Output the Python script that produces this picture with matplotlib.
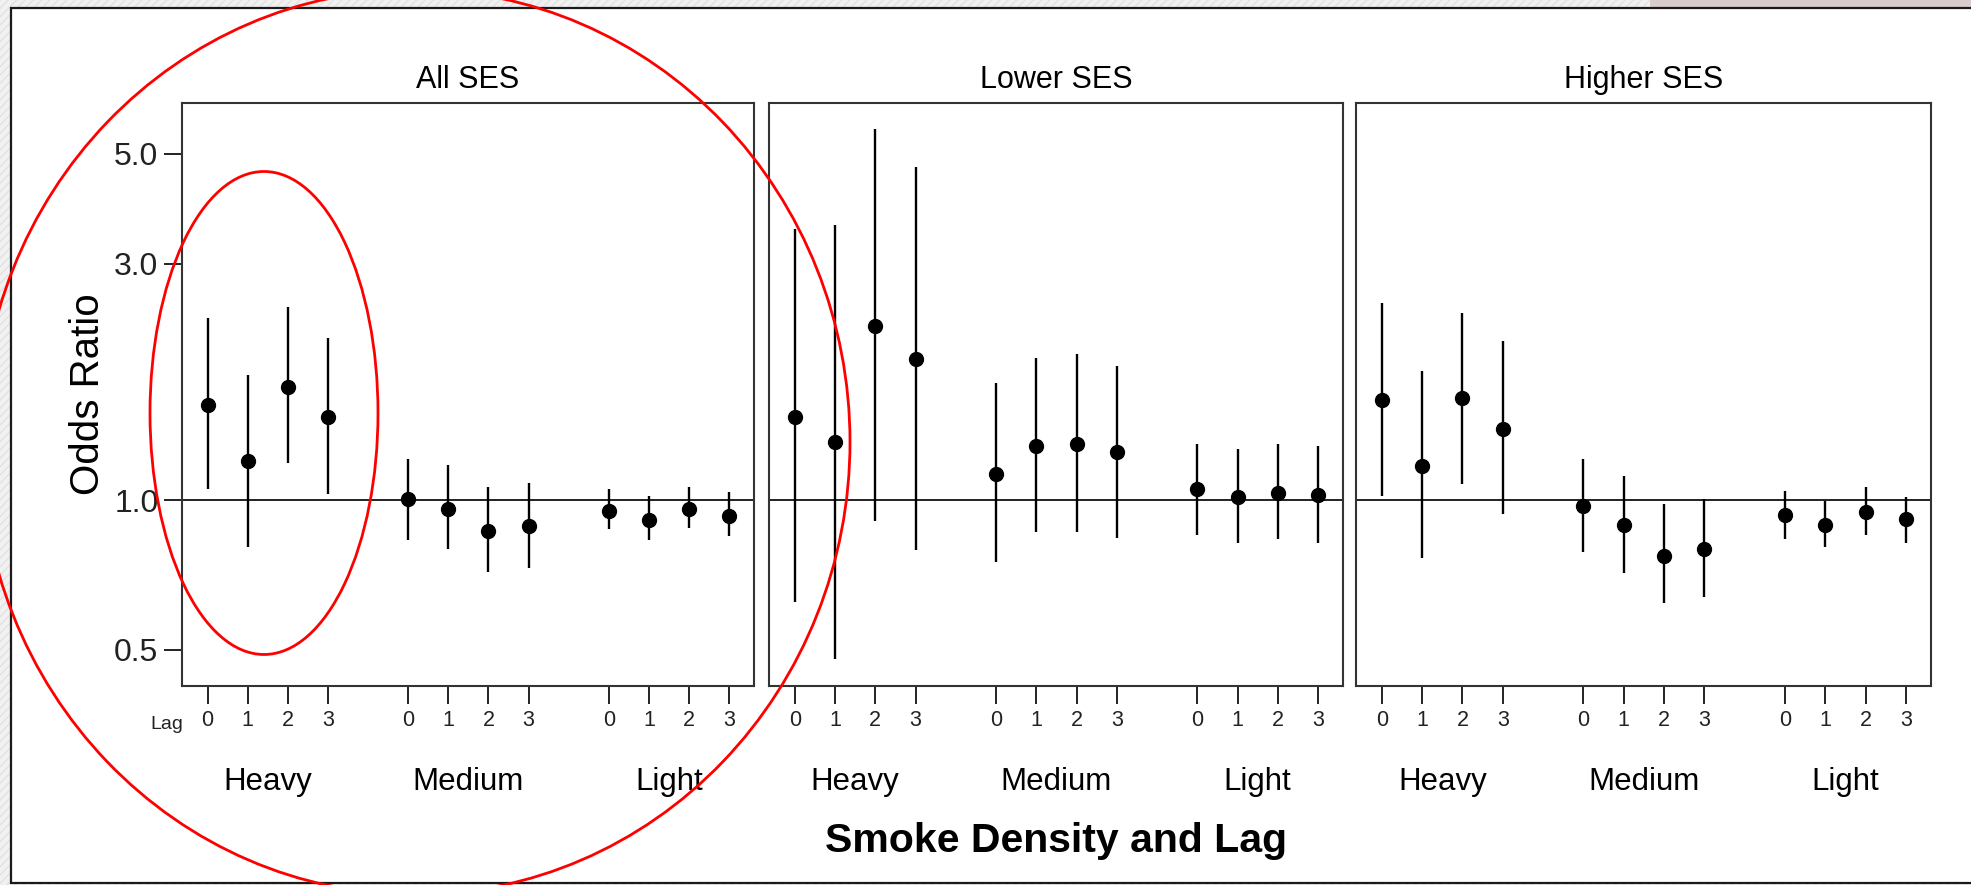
"""
Odds ratios by smoke density and lag, three SES panels
"""

import matplotlib

matplotlib.use("Agg")
import matplotlib.pyplot as plt
import matplotlib.transforms as mtransforms
from matplotlib.patches import Ellipse, Rectangle
from matplotlib.ticker import NullLocator

plt.rcParams["font.family"] = ["Liberation Sans", "DejaVu Sans"]

# ── Data ───────────────────────────────────────────────
panels = ["All SES", "Lower SES", "Higher SES"]
groups = ["Heavy", "Medium", "Light"]
lags = [0, 1, 2, 3]

all_or = [1.56, 1.20, 1.69, 1.47, 1.006, 0.962, 0.868, 0.889, 0.953, 0.912, 0.962, 0.930]
all_lo = [1.057, 0.804, 1.188, 1.03, 0.834, 0.797, 0.717, 0.732, 0.874, 0.834, 0.880, 0.847]
all_hi = [2.33, 1.79, 2.46, 2.13, 1.21, 1.18, 1.065, 1.085, 1.057, 1.02, 1.065, 1.038]

lower_or = [1.47, 1.31, 2.25, 1.93, 1.13, 1.29, 1.30, 1.255, 1.053, 1.017, 1.036, 1.025]
lower_lo = [0.624, 0.479, 0.911, 0.793, 0.75, 0.865, 0.865, 0.842, 0.851, 0.82, 0.836, 0.82]
lower_hi = [3.52, 3.59, 5.62, 4.71, 1.724, 1.94, 1.976, 1.87, 1.30, 1.268, 1.30, 1.29]

higher_or = [1.594, 1.172, 1.606, 1.394, 0.973, 0.892, 0.774, 0.797, 0.933, 0.892, 0.948, 0.916]
higher_lo = [1.023, 0.766, 1.081, 0.94, 0.787, 0.714, 0.621, 0.638, 0.836, 0.807, 0.851, 0.82]
higher_hi = [2.50, 1.822, 2.387, 2.10, 1.213, 1.121, 0.983, 1.009, 1.044, 0.996, 1.066, 1.017]

est = [all_or, lower_or, higher_or]
lo = [all_lo, lower_lo, higher_lo]
hi = [all_hi, lower_hi, higher_hi]

# x positions: 4 lags per group, a gap of one slot between groups
xpos = [g * 5 + lag + 1 for g in range(len(groups)) for lag in lags]
xlabels = [str(lag) for g in groups for lag in lags]

# ── Layout (pixels of the 1971x885 picture) ────────────
W, H = 1971, 885


def fx(px):
    return px / W


def fy(py):
    return 1 - py / H


fig = plt.figure(figsize=(W / 100, H / 100), dpi=100)
fig.patch.set_facecolor("#f1f1f1")

# hatched slide background + white card with frame
fig.add_artist(Rectangle((0, 0), 1, 1, transform=fig.transFigure, facecolor="#f1f1f1",
                         edgecolor="#e2e2e2", hatch="////", linewidth=0, zorder=-10))
fig.add_artist(Rectangle((fx(1650), fy(8)), 1, 8 / H, transform=fig.transFigure,
                         facecolor="#d8cccc", linewidth=0, zorder=-9))
fig.add_artist(Rectangle((fx(11), fy(883)), 1.2, fy(8) - fy(883), transform=fig.transFigure,
                         facecolor="white", edgecolor="#1a1a1a", linewidth=1.6, zorder=-5))

lefts = [182, 769, 1356]
rights = [754, 1343, 1931]
top, bottom = 103, 686

for i, name in enumerate(panels):
    l, r = lefts[i], rights[i]
    ax = fig.add_axes([fx(l), fy(bottom), (r - l) / W, (bottom - top) / H])
    ax.set_yscale("log")
    ax.set_ylim(0.4226, 6.33)
    ax.set_xlim(0.36, 14.62)

    ax.axhline(1.0, color="#222222", linewidth=1.4, zorder=1)
    ax.vlines(xpos, lo[i], hi[i], color="black", linewidth=1.7, zorder=2)
    ax.plot(xpos, est[i], "o", color="black", markersize=10, zorder=3)

    ax.set_xticks(xpos)
    ax.set_xticklabels(xlabels)
    ax.tick_params(axis="x", length=13, width=1.4, labelsize=15.5, pad=4, colors="#222222")
    ax.yaxis.set_minor_locator(NullLocator())
    if i == 0:
        ax.set_yticks([0.5, 1.0, 3.0, 5.0])
        ax.set_yticklabels(["0.5", "1.0", "3.0", "5.0"])
        ax.tick_params(axis="y", length=13, width=1.4, labelsize=23, pad=4, colors="#222222")
    else:
        ax.set_yticks([])
    for sp in ax.spines.values():
        sp.set_linewidth(1.5)
        sp.set_color("#333333")

    fig.text(fx((l + r) / 2), fy(88), name, ha="center", va="baseline", fontsize=22)

    trans = mtransforms.blended_transform_factory(ax.transData, fig.transFigure)
    for g, gname in enumerate(groups):
        ax.text(g * 5 + 2.5, fy(790), gname, transform=trans, ha="center",
                va="baseline", fontsize=22.5)

fig.text(fx(183), fy(729), "Lag", ha="right", va="baseline", fontsize=14, color="#222222")
fig.text(fx(1056), fy(852), "Smoke Density and Lag", ha="center", va="baseline",
         fontsize=29.5, fontweight="bold")
fig.text(fx(88), fy(394), "Odds Ratio", ha="center", va="center", rotation=90, fontsize=29)

# red highlight ellipses
fig.add_artist(Ellipse((fx(415), fy(442)), 870 / W, 905 / H, transform=fig.transFigure,
                       fill=False, edgecolor="#ff0000", linewidth=2.0, zorder=5))
fig.add_artist(Ellipse((fx(264), fy(413)), 228 / W, 483 / H, transform=fig.transFigure,
                       fill=False, edgecolor="#ff0000", linewidth=2.0, zorder=5))

fig.savefig("out.png", dpi=100, facecolor=fig.get_facecolor())
plt.close()
